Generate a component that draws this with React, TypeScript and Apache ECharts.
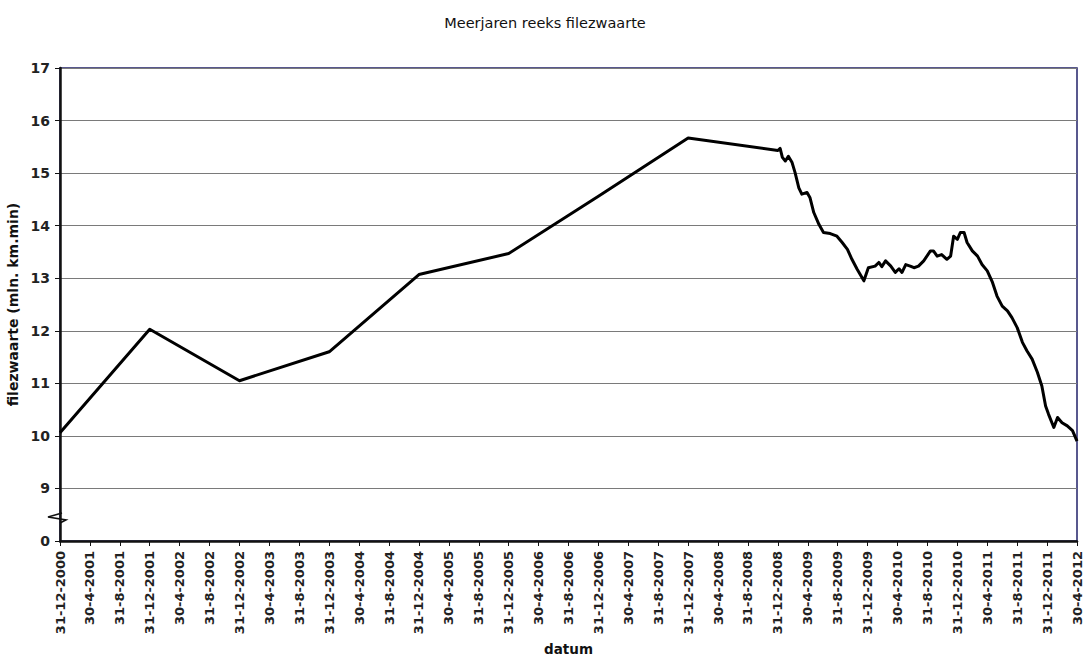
import React, { useEffect, useRef } from "react";
import * as echarts from "echarts";

// x tick labels (one every 4 months)
const xTickLabels = [
  "31-12-2000", "30-4-2001", "31-8-2001", "31-12-2001", "30-4-2002", "31-8-2002",
  "31-12-2002", "30-4-2003", "31-8-2003", "31-12-2003", "30-4-2004", "31-8-2004",
  "31-12-2004", "30-4-2005", "31-8-2005", "31-12-2005", "30-4-2006", "31-8-2006",
  "31-12-2006", "30-4-2007", "31-8-2007", "31-12-2007", "30-4-2008", "31-8-2008",
  "31-12-2008", "30-4-2009", "31-8-2009", "31-12-2009", "30-4-2010", "31-8-2010",
  "31-12-2010", "30-4-2011", "31-8-2011", "31-12-2011", "30-4-2012",
];

// y tick values (8 is shown as "0" because of the axis break)
const yTicks = [8, 9, 10, 11, 12, 13, 14, 15, 16, 17];

// months since 31-12-2000
const months = [
  0, 12, 24, 36, 48, 60, 72, 84,
  96.0, 96.3, 96.6, 97.0, 97.4, 97.9, 98.3, 98.8, 99.2, 99.9, 100.3, 100.8,
  101.5, 102.1, 103.0, 103.9, 104.6, 105.3, 105.9, 106.6, 107.5, 108.1,
  109.0, 109.5, 109.9, 110.4, 111.1, 111.7, 112.2, 112.6, 113.1, 113.7,
  114.2, 114.8, 115.5, 116.4, 116.8, 117.3, 117.9, 118.6, 119.1, 119.5,
  120.0, 120.4, 120.9, 121.3, 122.0, 122.7, 123.3, 124.0, 124.7, 125.3,
  126.0, 126.7, 127.3, 128.0, 128.7, 129.3, 130.0, 130.7, 131.3, 131.8,
  132.2, 132.9, 133.4, 134.0, 134.7, 135.4, 136.0,
];

// filezwaarte (mln. km.min)
const filezwaarte = [
  10.06, 12.03, 11.05, 11.6, 13.07, 13.47, 14.56, 15.67,
  15.43, 15.47, 15.3, 15.23, 15.32, 15.2, 15.01, 14.72, 14.6, 14.63, 14.53, 14.25,
  14.02, 13.87, 13.85, 13.8, 13.68, 13.55, 13.36, 13.17, 12.95, 13.2,
  13.23, 13.3, 13.22, 13.33, 13.23, 13.11, 13.18, 13.11, 13.26, 13.23,
  13.2, 13.23, 13.33, 13.52, 13.52, 13.42, 13.45, 13.36, 13.42, 13.8,
  13.74, 13.87, 13.87, 13.68, 13.52, 13.42, 13.26, 13.14, 12.92, 12.66,
  12.47, 12.38, 12.25, 12.06, 11.78, 11.62, 11.46, 11.21, 10.95, 10.57,
  10.41, 10.16, 10.35, 10.25, 10.19, 10.1, 9.9,
];

const FONT = "'DejaVu Sans', Verdana, sans-serif";

export default function App() {
  const ref = useRef<HTMLDivElement>(null);

  useEffect(() => {
    document.body.style.margin = "0";
    if (!ref.current) return;
    const chart = echarts.init(ref.current, undefined, { renderer: "svg" });
    const data = months.map((m, i) => [m, filezwaarte[i]]);
    chart.setOption({
      animation: false,
      backgroundColor: "#ffffff",
      title: {
        text: "Meerjaren reeks filezwaarte",
        left: "center",
        top: 10,
        textStyle: { fontFamily: FONT, fontSize: 14.5, fontWeight: "normal", color: "#111" },
      },
      grid: {
        left: 60,
        right: 13,
        top: 68,
        bottom: 116,
        containLabel: false,
        outerBoundsMode: "none",
        show: true,
        borderColor: "#22226a",
        borderWidth: 1.5,
        backgroundColor: "transparent",
      },
      xAxis: {
        type: "value",
        min: 0,
        max: 136,
        interval: 4,
        name: "datum",
        nameLocation: "middle",
        nameGap: 95,
        nameTextStyle: { fontFamily: FONT, fontSize: 13.5, fontWeight: "bold", color: "#111" },
        axisLine: { show: true, lineStyle: { color: "#111", width: 2.5 } },
        axisTick: { show: true, inside: false, length: 5, lineStyle: { color: "#111", width: 1 } },
        splitLine: { show: false },
        axisLabel: {
          rotate: 90,
          margin: 10,
          fontFamily: FONT,
          fontSize: 13,
          fontWeight: "bold",
          color: "#222",
          showMinLabel: true,
          showMaxLabel: true,
          formatter: (v: number) => xTickLabels[Math.round(v / 4)] ?? "",
        },
      },
      yAxis: {
        type: "value",
        min: yTicks[0],
        max: yTicks[yTicks.length - 1],
        interval: 1,
        name: "filezwaarte (mln. km.min)",
        nameLocation: "middle",
        nameGap: 35,
        nameTextStyle: { fontFamily: FONT, fontSize: 14, fontWeight: "bold", color: "#111" },
        axisLine: { show: true, lineStyle: { color: "#111", width: 2.5 } },
        axisTick: { show: true, inside: false, length: 5, lineStyle: { color: "#111", width: 1 } },
        splitLine: { show: true, lineStyle: { color: "#7a7a7a", width: 1 } },
        axisLabel: {
          margin: 10,
          fontFamily: FONT,
          fontSize: 14,
          fontWeight: "bold",
          color: "#222",
          formatter: (v: number) => (v === yTicks[0] ? "0" : String(v)),
        },
      },
      series: [
        {
          type: "line",
          data,
          showSymbol: false,
          symbol: "none",
          lineStyle: { color: "#000", width: 3, join: "round" },
          z: 5,
        },
      ],
      graphic: [
        {
          type: "polyline",
          shape: { points: [[62, 513], [48, 517], [66, 520], [60, 523]] },
          style: { stroke: "#111", lineWidth: 1.6, fill: "none" },
          z: 10,
        },
      ],
    });
    return () => chart.dispose();
  }, []);

  return <div ref={ref} style={{ width: 1090, height: 657 }} />;
}
